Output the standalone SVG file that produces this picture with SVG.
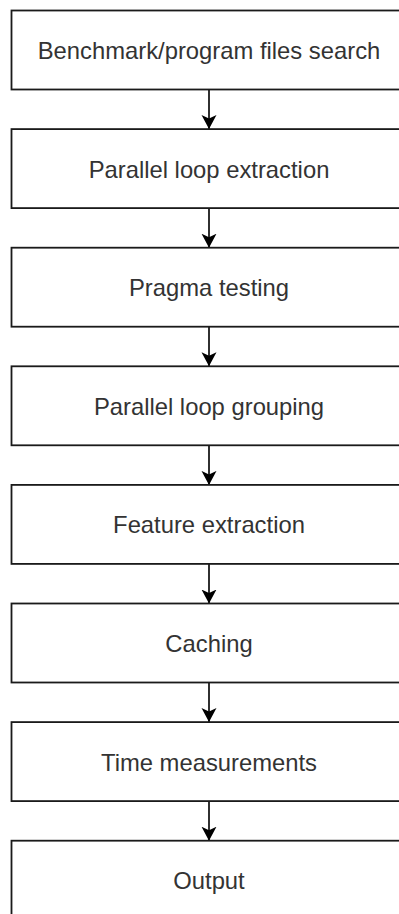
<svg xmlns="http://www.w3.org/2000/svg" width="399" height="914" viewBox="0 0 399 914">
<defs>
<style>
.box{fill:#fff;stroke:#1a1a1a;stroke-width:1.8}
.lbl{font-family:"Liberation Sans",Arial,sans-serif;font-size:23.8px;fill:#333;text-anchor:middle}
.edge{stroke:#1a1a1a;stroke-width:1.8;fill:none}
</style>
<marker id="ah" markerUnits="userSpaceOnUse" markerWidth="18" markerHeight="18" viewBox="0 0 18 18" refX="14" refY="9" orient="auto">
<path d="M0,1.5 L14,9 L0,16.5 L3.5,9 Z" fill="#000"/>
</marker>
</defs>
<rect width="399" height="914" fill="#fff"/>
<g id="connectors">
<line class="edge" x1="209" y1="89.5" x2="209" y2="129.1" marker-end="url(#ah)"/>
<line class="edge" x1="209" y1="208.1" x2="209" y2="247.7" marker-end="url(#ah)"/>
<line class="edge" x1="209" y1="326.7" x2="209" y2="366.3" marker-end="url(#ah)"/>
<line class="edge" x1="209" y1="445.3" x2="209" y2="484.9" marker-end="url(#ah)"/>
<line class="edge" x1="209" y1="563.9" x2="209" y2="603.5" marker-end="url(#ah)"/>
<line class="edge" x1="209" y1="682.5" x2="209" y2="722.1" marker-end="url(#ah)"/>
<line class="edge" x1="209" y1="801.1" x2="209" y2="840.7" marker-end="url(#ah)"/>
</g>
<g id="n1"><rect class="box" x="11.5" y="10.5" width="395" height="79"/><text class="lbl" x="209" y="59">Benchmark/program files search</text></g>
<g id="n2"><rect class="box" x="11.5" y="129.1" width="395" height="79"/><text class="lbl" x="209" y="177.6">Parallel loop extraction</text></g>
<g id="n3"><rect class="box" x="11.5" y="247.7" width="395" height="79"/><text class="lbl" x="209" y="296.2">Pragma testing</text></g>
<g id="n4"><rect class="box" x="11.5" y="366.3" width="395" height="79"/><text class="lbl" x="209" y="414.8">Parallel loop grouping</text></g>
<g id="n5"><rect class="box" x="11.5" y="484.9" width="395" height="79"/><text class="lbl" x="209" y="533.4">Feature extraction</text></g>
<g id="n6"><rect class="box" x="11.5" y="603.5" width="395" height="79"/><text class="lbl" x="209" y="652">Caching</text></g>
<g id="n7"><rect class="box" x="11.5" y="722.1" width="395" height="79"/><text class="lbl" x="209" y="770.6">Time measurements</text></g>
<g id="n8"><rect class="box" x="11.5" y="840.7" width="395" height="79"/><text class="lbl" x="209" y="889.2">Output</text></g>
</svg>
